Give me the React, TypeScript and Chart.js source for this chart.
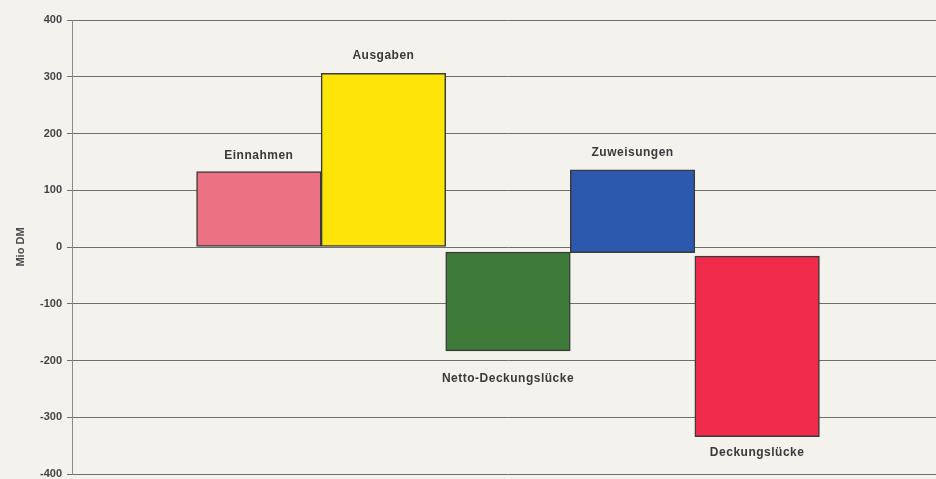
import React, { useEffect, useRef } from "react";
import { Chart, registerables } from "chart.js";

Chart.register(...registerables);

// ---- data ----
const categories = ["", "Einnahmen", "Ausgaben", "Netto-Deckungslücke", "Zuweisungen", "Deckungslücke", ""];
const barStart: (number | null)[] = [null, 0, 0, -9, -10, -16, null];
const barEnd: (number | null)[] = [null, 133, 306, -183, 136, -334, null];
const yMin = -400;
const yMax = 400;
const yStep = 100;
const yTitle = "Mio DM";

// ---- style ----
const barColors = ["#000", "#ec7283", "#ffe40a", "#3f7b38", "#2c58ae", "#f02b4b", "#000"];
const labelGap = [0, 16, 18, 28, 17, 16, 0];

const labelPlugin = {
  id: "barLabels",
  afterDatasetsDraw(chart: any) {
    const ctx = chart.ctx;
    const meta = chart.getDatasetMeta(0);
    ctx.save();
    ctx.font = "bold 12px 'Liberation Sans', Arial, sans-serif";
    (ctx as any).letterSpacing = "0.5px";
    ctx.fillStyle = "#3a3a3a";
    ctx.textAlign = "center";
    ctx.textBaseline = "middle";
    meta.data.forEach((el: any, i: number) => {
      const s = barStart[i];
      const e = barEnd[i];
      if (s === null || e === null) return;
      const top = Math.min(el.y, el.base);
      const bottom = Math.max(el.y, el.base);
      const up = Math.max(s, e) > 0;
      const y = up ? top - labelGap[i] : bottom + labelGap[i];
      ctx.fillText(categories[i], el.x, y);
    });
    ctx.restore();
  },
};

export default function App() {
  const ref = useRef<HTMLCanvasElement | null>(null);
  useEffect(() => {
    document.body.style.margin = "0";
    const canvas = ref.current;
    if (!canvas) return;
    const data = categories.map((_, i) =>
      barStart[i] === null || barEnd[i] === null ? null : [barStart[i] as number, barEnd[i] as number]
    );
    const chart = new Chart(canvas, {
      type: "bar",
      data: {
        labels: categories,
        datasets: [
          {
            data: data as any,
            backgroundColor: barColors,
            borderColor: "#3b3b3b",
            borderWidth: 1.5,
            borderSkipped: false,
            categoryPercentage: 1,
            barPercentage: 1,
          },
        ],
      },
      options: {
        responsive: false,
        animation: false,
        layout: { padding: { top: 20, bottom: 5, left: 0, right: 0 } },
        plugins: { legend: { display: false }, tooltip: { enabled: false } },
        scales: {
          x: { display: false, offset: true },
          y: {
            min: yMin,
            max: yMax,
            afterFit: (s: any) => {
              s.width = 72;
              s.paddingTop = 0;
              s.paddingBottom = 0;
            },
            ticks: {
              stepSize: yStep,
              color: "#444444",
              font: { family: "'Liberation Sans', Arial, sans-serif", size: 11, weight: "bold" },
              padding: 5,
            },
            grid: { color: "#6e6e6e", lineWidth: 1, tickLength: 5 },
            border: { color: "#8a8a8a", width: 1 },
            title: {
              display: true,
              text: yTitle,
              color: "#4a4a4a",
              font: { family: "'Liberation Sans', Arial, sans-serif", size: 11, weight: "bold" },
              padding: { top: 14, bottom: 0 },
            },
          },
        },
      },
      plugins: [labelPlugin],
    });
    return () => chart.destroy();
  }, []);
  return (
    <div style={{ width: 936, height: 479, overflow: "hidden", background: "#f3f2ed" }}>
      <canvas ref={ref} width={944} height={479} style={{ display: "block" }} />
    </div>
  );
}
